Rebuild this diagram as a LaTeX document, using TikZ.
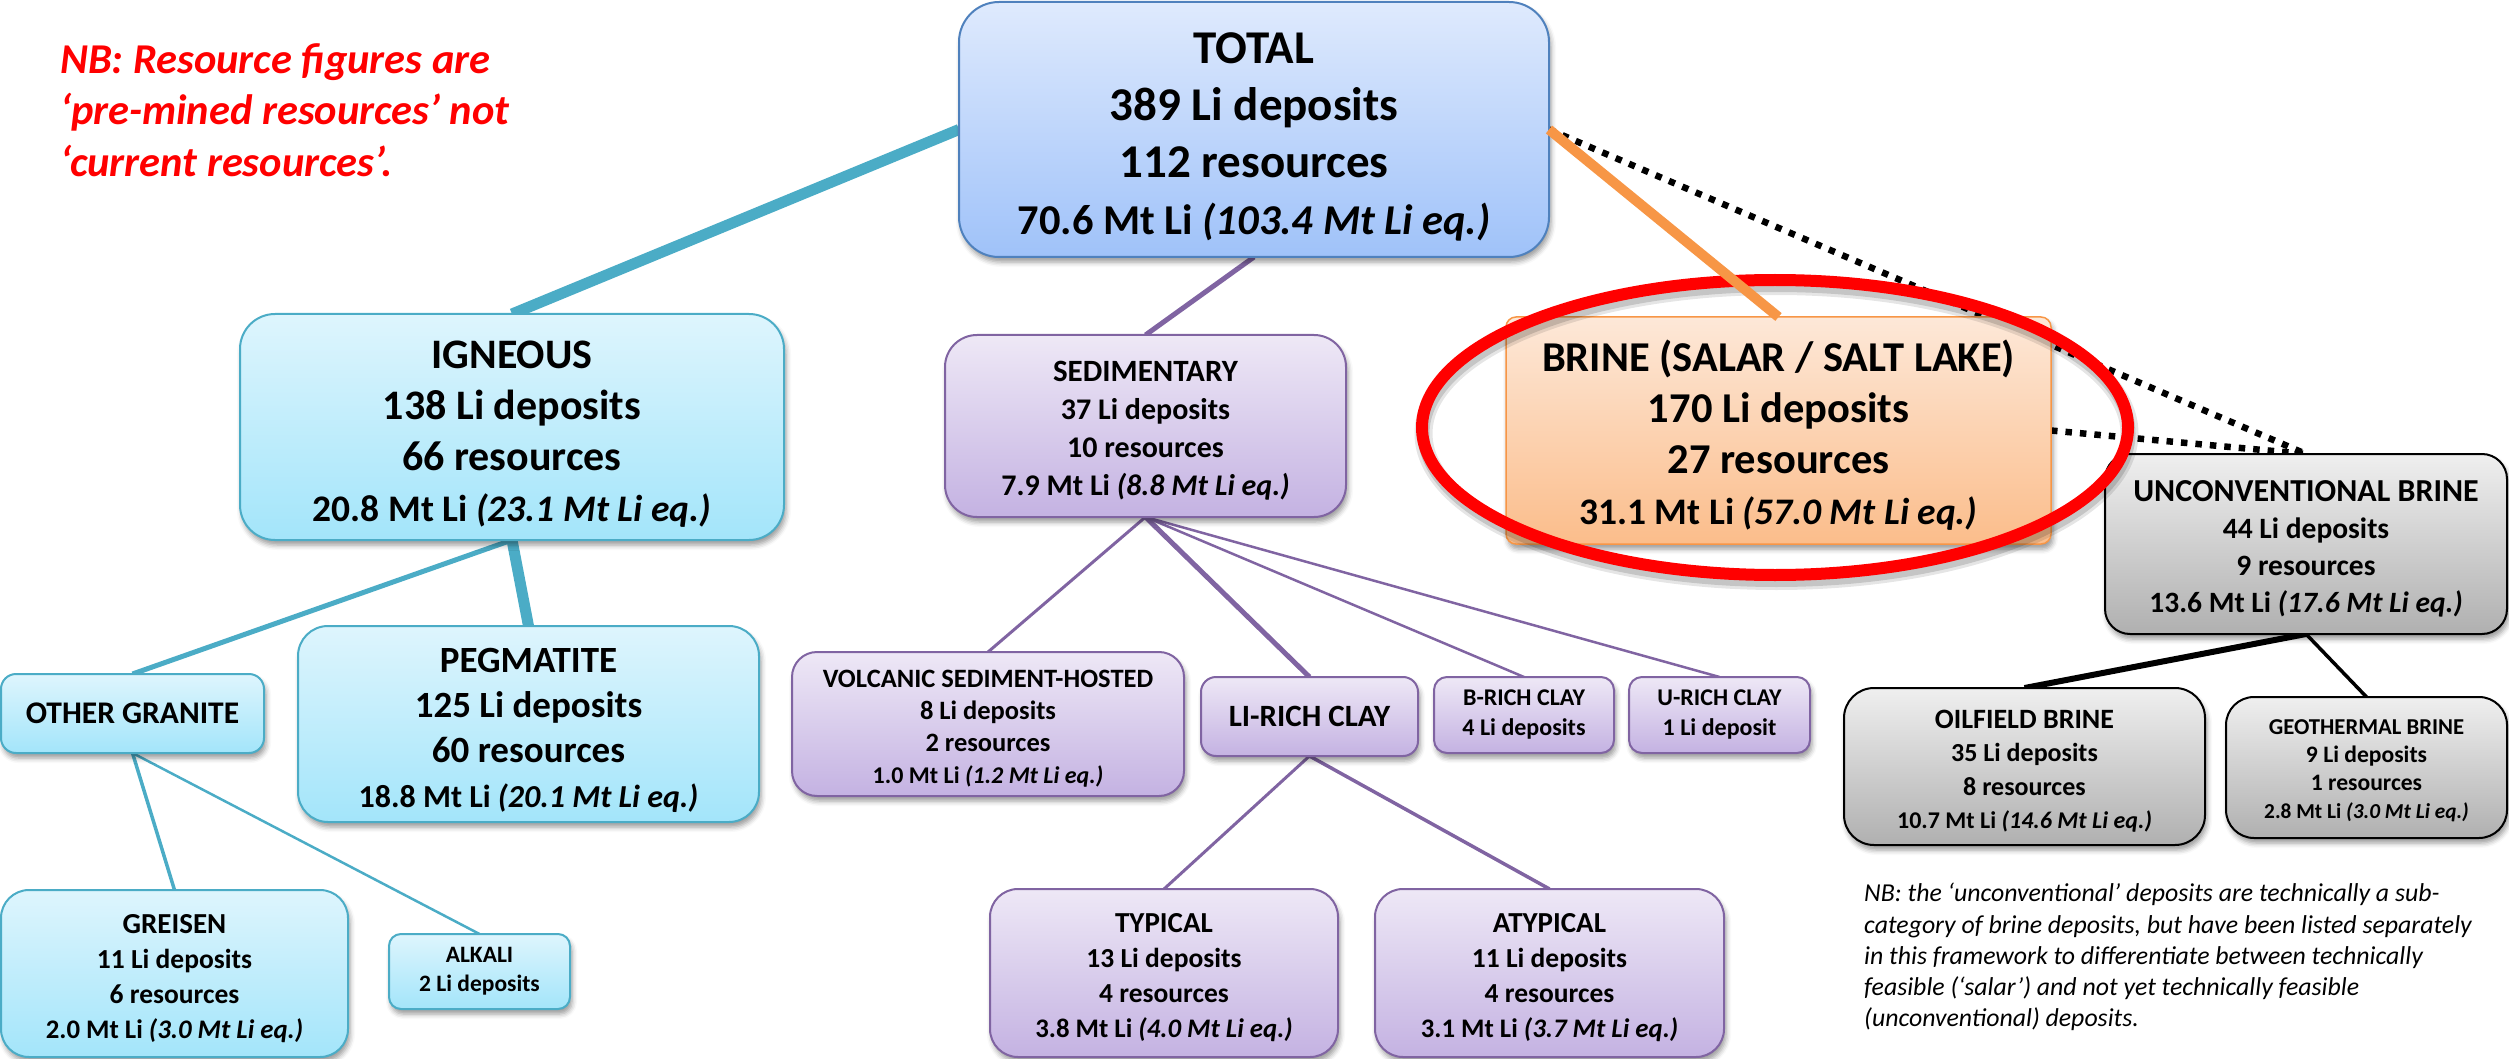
\documentclass[tikz,border=0pt]{standalone}
\usepackage{fontspec}
\setmainfont{Carlito}
\usetikzlibrary{shapes.geometric,shadows.blur,backgrounds}
\newcommand\setfs[2]{\fontsize{#1}{#2}\selectfont}
\newcommand\tp{\rule{0pt}{0.98em}}
\definecolor{blueT}{HTML}{DFEAFD}
\definecolor{blueB}{HTML}{9FC2F9}
\definecolor{blueL}{HTML}{4F81BD}
\definecolor{tealT}{HTML}{DEF5FD}
\definecolor{tealB}{HTML}{A3E5FA}
\definecolor{tealL}{HTML}{4BACC6}
\definecolor{purT}{HTML}{EEE8F6}
\definecolor{purB}{HTML}{C4B2E2}
\definecolor{purL}{HTML}{8064A2}
\definecolor{orT}{HTML}{FDE8D8}
\definecolor{orB}{HTML}{FBBD8B}
\definecolor{orL}{HTML}{F79646}
\definecolor{grT}{HTML}{EFEFEF}
\definecolor{grB}{HTML}{B0B0B0}
\definecolor{hlred}{HTML}{FF0000}
\tikzset{
  box/.style={inner sep=0pt, outer sep=0pt, align=center,
    blur shadow={shadow xshift=2pt, shadow yshift=-5pt, shadow blur radius=5pt, shadow opacity=40}},
  bluebox/.style={box, draw=blueL, line width=2pt, top color=blueT, bottom color=blueB},
  tealbox/.style={box, draw=tealL, line width=2pt, top color=tealT, bottom color=tealB},
  purbox/.style={box, draw=purL, line width=2pt, top color=purT, bottom color=purB},
  orbox/.style={box, draw=orL, line width=1.5pt, top color=orT, bottom color=orB},
  grbox/.style={box, draw=black, line width=2pt, top color=grT, bottom color=grB},
  fsz/.style 2 args={font=\bfseries\setfs{#1}{#2}},
  tline/.style={draw=tealL, line width=#1},
  pline/.style={draw=purL, line width=#1},
  kline/.style={draw=black, line width=#1},
  dotline/.style={draw=black, line width=6.5pt, dash pattern=on 6.5pt off 8pt},
}
\begin{document}
\begin{tikzpicture}[x=1pt,y=-1pt]
\useasboundingbox (0,0) rectangle (2509,1059);

% notes
\node[anchor=north west, align=left, inner sep=0pt, text=hlred, font=\bfseries\itshape\setfs{42.5}{51.5}] (nbtop) at (60,43)
  {NB: Resource figures are\\‘pre-mined resources’ not\\‘current resources’.};
\node[anchor=north west, align=left, inner sep=0pt, font=\itshape\setfs{25.8}{31.3}] (nbbot) at (1864,883)
  {NB: the ‘unconventional’ deposits are technically a sub-\\category of brine deposits, but have been listed separately\\in this framework to differentiate between technically\\feasible (‘salar’) and not yet technically feasible\\(unconventional) deposits.};

% boxes
\node[bluebox, fsz={47}{57}, minimum width=590pt, minimum height=255pt, rounded corners=40pt] (total) at (1254,129.5)
  {\tp TOTAL\\389 Li deposits\\112 resources\\\setfs{42.5}{57}70.6 Mt Li \textit{(103.4 Mt Li eq.)}};
\node[tealbox, fsz={42}{51}, minimum width=544pt, minimum height=226pt, rounded corners=35pt] (ign) at (512,427)
  {\tp IGNEOUS\\138 Li deposits\\66 resources\\\setfs{37.5}{51}20.8 Mt Li \textit{(23.1 Mt Li eq.)}};
\node[tealbox, fsz={31.5}{38}, minimum width=263pt, minimum height=79pt, rounded corners=15pt] (other) at (132.5,713.5)
  {OTHER GRANITE};
\node[tealbox, fsz={37}{45}, minimum width=461pt, minimum height=196pt, rounded corners=30pt] (peg) at (528.5,724)
  {\tp PEGMATITE\\125 Li deposits\\60 resources\\\setfs{32}{45}18.8 Mt Li \textit{(20.1 Mt Li eq.)}};
\node[tealbox, fsz={27.5}{35}, minimum width=347pt, minimum height=167pt, rounded corners=28pt] (greisen) at (174.5,973.5)
  {\setfs{29}{35}\tp GREISEN\\11 Li deposits\\6 resources\\\setfs{26.8}{35}2.0 Mt Li \textit{(3.0 Mt Li eq.)}};
\node[tealbox, fsz={23.5}{29}, minimum width=181pt, minimum height=75pt, rounded corners=12pt] (alkali) at (479.5,971.5)
  {ALKALI\\2 Li deposits};

\node[purbox, fsz={30}{38}, minimum width=401pt, minimum height=182pt, rounded corners=32pt] (sed) at (1145.5,426)
  {\setfs{31}{38}\tp SEDIMENTARY\\37 Li deposits\\10 resources\\7.9 Mt Li \textit{(8.8 Mt Li eq.)}};
\node[purbox, fsz={26.5}{32}, minimum width=392pt, minimum height=144pt, rounded corners=25pt] (volc) at (988,724)
  {\tp VOLCANIC SEDIMENT-HOSTED\\8 Li deposits\\2 resources\\\setfs{24}{32}1.0 Mt Li \textit{(1.2 Mt Li eq.)}};
\node[purbox, fsz={31}{38}, minimum width=217pt, minimum height=79pt, rounded corners=15pt] (lirich) at (1309.5,716.5)
  {LI-RICH CLAY};
\node[purbox, fsz={24}{30}, minimum width=180pt, minimum height=76pt, rounded corners=13pt] (brich) at (1524,715)
  {B-RICH CLAY\\4 Li deposits};
\node[purbox, fsz={24}{30}, minimum width=181pt, minimum height=76pt, rounded corners=13pt] (urich) at (1719.5,715)
  {U-RICH CLAY\\1 Li deposit};
\node[purbox, fsz={27.5}{35}, minimum width=348pt, minimum height=168pt, rounded corners=28pt] (typ) at (1164,973)
  {\setfs{29}{35}\tp TYPICAL\\13 Li deposits\\4 resources\\\setfs{26.8}{35}3.8 Mt Li \textit{(4.0 Mt Li eq.)}};
\node[purbox, fsz={27.5}{35}, minimum width=349pt, minimum height=168pt, rounded corners=28pt] (atyp) at (1549.5,973)
  {\setfs{29}{35}\tp ATYPICAL\\11 Li deposits\\4 resources\\\setfs{26.8}{35}3.1 Mt Li \textit{(3.7 Mt Li eq.)}};

\node[orbox, fsz={42.5}{51}, minimum width=545pt, minimum height=227pt, rounded corners=10pt] (brine) at (1778.5,430.5)
  {\tp BRINE (SALAR / SALT LAKE)\\170 Li deposits\\27 resources\\\setfs{37.5}{51}31.1 Mt Li \textit{(57.0 Mt Li eq.)}};
\node[grbox, fsz={29.5}{37}, minimum width=402pt, minimum height=180pt, rounded corners=25pt] (unc) at (2306,544)
  {\setfs{32}{37}\tp UNCONVENTIONAL BRINE\\44 Li deposits\\9 resources\\13.6 Mt Li \textit{(17.6 Mt Li eq.)}};
\node[grbox, fsz={26}{33.5}, minimum width=361pt, minimum height=157pt, rounded corners=30pt] (oil) at (2024.5,766.5)
  {\setfs{28}{33.5}\tp OILFIELD BRINE\\35 Li deposits\\8 resources\\\setfs{24}{33.5}10.7 Mt Li \textit{(14.6 Mt Li eq.)}};
\node[grbox, fsz={23.6}{28}, minimum width=281pt, minimum height=141pt, rounded corners=28pt] (geo) at (2366.5,767.5)
  {\setfs{22.7}{28}\tp GEOTHERMAL BRINE\\9 Li deposits\\1 resources\\\setfs{21.3}{28}2.8 Mt Li \textit{(3.0 Mt Li eq.)}};

% connectors
\begin{scope}[on background layer]
\draw[tline=11pt] (total.west) -- (ign.north);
\draw[tline=5pt] (ign.south) -- (other.north);
\draw[tline=11pt] (ign.south) -- (peg.north);
\draw[tline=3.5pt] (other.south) -- (greisen.north);
\draw[tline=2.5pt] (other.south) -- (alkali.north);
\draw[pline=5pt] (total.south) -- (sed.north);
\draw[pline=3pt] (sed.south) -- (volc.north);
\draw[pline=5pt] (sed.south) -- (lirich.north);
\draw[pline=2.5pt] (sed.south) -- (brich.north);
\draw[pline=2.5pt] (sed.south) -- (urich.north);
\draw[pline=3pt] (lirich.south) -- (typ.north);
\draw[pline=3.5pt] (lirich.south) -- (atyp.north);
\draw[kline=6pt] (unc.south) -- (oil.north);
\draw[kline=3.5pt] (unc.south) -- (geo.north);
\draw[dotline] (total.east) -- (unc.north);
\draw[dotline] (brine.east) -- (unc.north);
\end{scope}

% highlight ellipse (with soft shadow) and orange link
\draw[black, opacity=0.10, line width=18pt] (brine.center) ++(-2,3) ellipse [x radius=353pt, y radius=147.5pt];
\draw[black, opacity=0.14, line width=12pt] (brine.center) ++(-2,3) ellipse [x radius=353pt, y radius=147.5pt];
\draw[hlred, line width=12pt] (brine.center) ++(-3.5,-3) ellipse [x radius=353pt, y radius=147.5pt];
\draw[draw=orL, line width=10pt] (total.east) -- (brine.north);
\end{tikzpicture}
\end{document}
